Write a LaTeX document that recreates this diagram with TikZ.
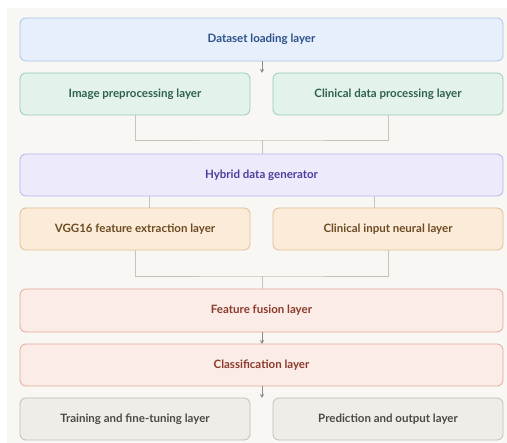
\documentclass[tikz,border=0pt]{standalone}
\usepackage{fontspec}
\setmainfont{Lato}
\usetikzlibrary{arrows.meta}
\definecolor{pagebg}{HTML}{F8F7F4}
\definecolor{blueF}{HTML}{E6EFFB}\definecolor{blueD}{HTML}{A8C6EA}\definecolor{blueT}{HTML}{2D5289}
\definecolor{greenF}{HTML}{E3F3EC}\definecolor{greenD}{HTML}{96CDB0}\definecolor{greenT}{HTML}{2E6148}
\definecolor{purF}{HTML}{ECEAFB}\definecolor{purD}{HTML}{B7B2EF}\definecolor{purT}{HTML}{4B3F9E}
\definecolor{oraF}{HTML}{FBECD9}\definecolor{oraD}{HTML}{E2BD8F}\definecolor{oraT}{HTML}{6E4A22}
\definecolor{redF}{HTML}{FBECE7}\definecolor{redD}{HTML}{E4A898}\definecolor{redT}{HTML}{8B3B2B}
\definecolor{grayF}{HTML}{EEEDE8}\definecolor{grayD}{HTML}{C0BEB6}\definecolor{grayT}{HTML}{4B4A46}
\definecolor{lineC}{HTML}{C4C3BE}\definecolor{arrC}{HTML}{8C8B87}
\begin{document}
\begin{tikzpicture}[x=1pt,y=-1pt,
  layer/.style={draw, rounded corners=6pt, line width=0.8pt, font=\bfseries\fontsize{11.5}{13}\selectfont, inner sep=0pt, minimum height=42pt},
  wide/.style={layer, minimum width=483pt},
  half/.style={layer, minimum width=230pt},
  bluebox/.style={fill=blueF, draw=blueD, text=blueT},
  greenbox/.style={fill=greenF, draw=greenD, text=greenT},
  purbox/.style={fill=purF, draw=purD, text=purT},
  orabox/.style={fill=oraF, draw=oraD, text=oraT},
  redbox/.style={fill=redF, draw=redD, text=redT},
  graybox/.style={fill=grayF, draw=grayD, text=grayT},
  conn/.style={draw=lineC, line width=0.8pt},
  arr/.style={draw=arrC, line width=0.8pt, -{Stealth[length=4pt,width=4pt]}}
]
\useasboundingbox (0,0) rectangle (507,443);
\fill[white] (0,0) rectangle (507,443);
\fill[pagebg] (7,8) rectangle (507,443);

\node[wide, bluebox, minimum height=43pt] (ds) at (261.5,39.5) {Dataset loading layer};
\node[half, greenbox] (img) at (135,94) {Image preprocessing layer};
\node[half, greenbox] (cli) at (388,94) {Clinical data processing layer};
\node[wide, purbox] (hyb) at (261.5,175) {Hybrid data generator};
\node[half, orabox] (vgg) at (135,229) {VGG16 feature extraction layer};
\node[half, orabox] (cin) at (388,229) {Clinical input neural layer};
\node[wide, redbox, minimum height=43pt] (fus) at (261.5,310.5) {Feature fusion layer};
\node[wide, redbox] (cls) at (261.5,365) {Classification layer};
\node[half, graybox] (trn) at (135,419) {Training and fine-tuning layer};
\node[half, graybox] (prd) at (388,419) {Prediction and output layer};

\coordinate (a1) at (262,73);
\coordinate (m1) at (262,140);
\coordinate (h1) at (149,196);
\coordinate (h1e) at (149,208);
\coordinate (h2) at (374,196);
\coordinate (h2e) at (374,208);
\coordinate (m2) at (262,276);
\coordinate (a2s) at (262,332);
\coordinate (a2e) at (262,344);
\coordinate (a3s) at (262,386);
\coordinate (a3e) at (262,398);

\draw[arr] (ds.south -| a1) -- (a1);
\draw[conn] (img.south) |- (m1) -| (cli.south);
\draw[conn] (m1) -- (hyb.north -| m1);
\draw[conn] (h1) -- (h1e);
\draw[conn] (h2) -- (h2e);
\draw[conn] (vgg.south) |- (m2) -| (cin.south);
\draw[conn] (m2) -- (fus.north -| m2);
\draw[arr] (a2s) -- (a2e);
\draw[arr] (a3s) -- (a3e);
\end{tikzpicture}
\end{document}
